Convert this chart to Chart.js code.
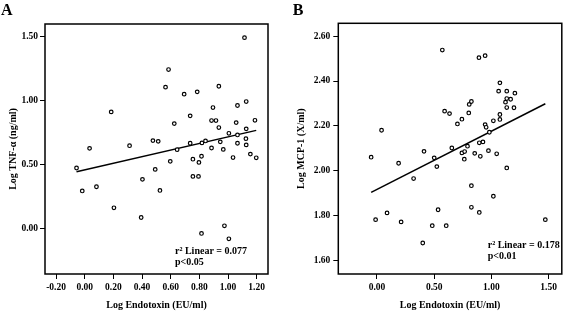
<!DOCTYPE html>
<html>
<head>
<meta charset="utf-8">
<script src="https://cdn.jsdelivr.net/npm/chart.js@4.4.0/dist/chart.umd.min.js"></script>
<style>
  html, body { margin: 0; padding: 0; background: #fff; }
  #wrap { position: relative; width: 567px; height: 311px; }
  .panel { position: absolute; top: 0; height: 311px; }
  #panelA { left: 0; width: 283px; }
  #panelB { left: 283px; width: 284px; }
</style>
</head>
<body>
<div id="wrap">
  <div class="panel" id="panelA"><canvas id="chartA"></canvas></div>
  <div class="panel" id="panelB"><canvas id="chartB"></canvas></div>
</div>
<script>
// Panel A: Log endotoxin vs Log TNF-a
const endotoxinA = [-0.057, -0.017, 0.034, 0.082, 0.185, 0.204, 0.313, 0.394, 0.403, 0.476,
  0.513, 0.492, 0.525, 0.564, 0.585, 0.597, 0.625, 0.645, 0.694, 0.736,
  0.736, 0.755, 0.755, 0.785, 0.794, 0.797, 0.815, 0.815, 0.818, 0.843,
  0.885, 0.916, 0.885, 0.895, 0.936, 0.936, 0.946, 0.967, 0.975, 1.006,
  1.006, 1.035, 1.057, 1.066, 1.066, 1.066, 1.115, 1.127, 1.127, 1.125,
  1.127, 1.156, 1.188, 1.197];
const tnfA = [0.471, 0.291, 0.625, 0.324, 0.911, 0.159, 0.646, 0.083, 0.382, 0.686,
  0.680, 0.460, 0.295, 1.105, 1.243, 0.523, 0.819, 0.615, 1.050, 0.880,
  0.665, 0.540, 0.405, 1.068, 0.405, 0.515, 0.563, -0.042, 0.668, 0.683,
  0.843, 0.843, 0.628, 0.945, 1.112, 0.788, 0.676, 0.617, 0.018, 0.743,
  -0.084, 0.553, 0.827, 0.961, 0.730, 0.665, 1.493, 0.992, 0.778, 0.701,
  0.652, 0.580, 0.845, 0.551];
const xTicksA = [-0.2, 0, 0.2, 0.4, 0.6, 0.8, 1.0, 1.2];
const yTicksA = [0, 0.5, 1.0, 1.5];

// Panel B: Log endotoxin vs Log MCP-1
const endotoxinB = [-0.051, -0.012, 0.040, 0.088, 0.189, 0.211, 0.320, 0.400, 0.411, 0.483,
  0.500, 0.523, 0.534, 0.571, 0.591, 0.605, 0.634, 0.654, 0.703, 0.742,
  0.742, 0.763, 0.766, 0.791, 0.802, 0.806, 0.825, 0.825, 0.825, 0.854,
  0.891, 0.894, 0.894, 0.903, 0.926, 0.945, 0.945, 0.954, 0.974, 0.982,
  1.017, 1.017, 1.046, 1.063, 1.074, 1.074, 1.074, 1.123, 1.134, 1.134,
  1.134, 1.134, 1.168, 1.197, 1.205, 1.471];
const mcpB = [2.061, 1.783, 2.181, 1.813, 2.034, 1.773, 1.966, 1.679, 2.087, 1.756,
  2.058, 2.019, 1.827, 2.538, 2.266, 1.756, 2.255, 2.102, 2.209, 2.230,
  2.080, 2.052, 2.086, 2.110, 2.258, 2.296, 2.309, 1.934, 1.838, 2.078,
  2.504, 2.125, 1.815, 2.065, 2.129, 2.513, 2.206, 2.194, 2.090, 2.172,
  2.223, 1.887, 2.076, 2.355, 2.392, 2.251, 2.229, 2.306, 2.355, 2.322,
  2.282, 2.013, 2.319, 2.281, 2.346, 1.783];
const xTicksB = [0, 0.5, 1.0, 1.5];
const yTicksB = [1.6, 1.8, 2.0, 2.2, 2.4, 2.6];

const SERIF = '"Liberation Serif", "Times New Roman", serif';
const tickFont = { family: SERIF, size: 9.5, weight: 'bold' };
const titleFont = { family: SERIF, size: 10, weight: 'bold' };

// least squares fit, drawn from min x to max x
function fitLine(xs, ys) {
  const n = xs.length;
  const mx = xs.reduce((a, b) => a + b, 0) / n;
  const my = ys.reduce((a, b) => a + b, 0) / n;
  let sxy = 0, sxx = 0;
  for (let i = 0; i < n; i++) {
    sxy += (xs[i] - mx) * (ys[i] - my);
    sxx += (xs[i] - mx) * (xs[i] - mx);
  }
  const b = sxy / sxx;
  const a = my - b * mx;
  const x0 = Math.min(...xs), x1 = Math.max(...xs);
  return [{ x: x0, y: a + b * x0 }, { x: x1, y: a + b * x1 }];
}

function makeScale(o) {
  return {
    type: 'linear',
    position: o.position,
    min: o.min,
    max: o.max,
    afterBuildTicks: s => { s.ticks = o.ticks.map(v => ({ value: v })); },
    afterFit: s => {
      if (o.position === 'left') s.width = o.size;
      else s.height = o.size;
    },
    border: { display: false },
    grid: { drawOnChartArea: false, drawTicks: true, tickLength: 5, tickColor: '#000', tickWidth: 1 },
    ticks: { color: '#000', font: tickFont, padding: o.pad, autoSkip: false, maxRotation: 0,
      callback: v => v.toFixed(2) },
    title: { display: true, text: o.title, color: '#000', font: titleFont, padding: o.titlePad }
  };
}

// frame round the plot area, stats text and panel letter
const framePlugin = {
  id: 'frame',
  afterDraw(chart, args, o) {
    const { ctx, chartArea: a } = chart;
    ctx.save();
    ctx.strokeStyle = '#000';
    ctx.lineWidth = 1.5;
    ctx.strokeRect(a.left, a.top, a.right - a.left, a.bottom - a.top);
    ctx.fillStyle = '#000';
    ctx.font = 'bold 10px ' + SERIF;
    ctx.textBaseline = 'middle';
    ctx.textAlign = 'left';
    o.notes.forEach(n => ctx.fillText(n.text, n.x, n.y));
    ctx.font = 'bold 16px ' + SERIF;
    ctx.textBaseline = 'alphabetic';
    ctx.fillText(o.letter, o.letterX, 14.5);
    ctx.restore();
  }
};

function makeChart(id, cfg) {
  const pts = cfg.xs.map((x, i) => ({ x, y: cfg.ys[i] }));
  return new Chart(document.getElementById(id), {
    type: 'scatter',
    data: {
      datasets: [
        { data: pts, pointRadius: 1.8, pointBorderWidth: 1.2, pointBorderColor: '#000',
          pointBackgroundColor: '#fff', order: 0 },
        { type: 'line', data: fitLine(cfg.xs, cfg.ys), borderColor: '#000', borderWidth: 1.5,
          pointRadius: 0, fill: false, order: 1 }
      ]
    },
    options: {
      responsive: true,
      maintainAspectRatio: false,
      animation: false,
      layout: { padding: cfg.padding },
      plugins: { legend: { display: false }, tooltip: { enabled: false }, frame: cfg.frame },
      scales: { x: makeScale(cfg.x), y: makeScale(cfg.y) }
    },
    plugins: [framePlugin]
  });
}

makeChart('chartA', {
  xs: endotoxinA, ys: tnfA,
  padding: { left: 0, top: 24, right: 15, bottom: 0 },
  x: { position: 'bottom', min: -0.277, max: 1.279, ticks: xTicksA, size: 37, pad: 3,
       title: 'Log Endotoxin (EU/ml)', titlePad: { top: 0, bottom: 0 } },
  y: { position: 'left', min: -0.36, max: 1.60, ticks: yTicksA, size: 45, pad: 2,
       title: 'Log TNF-\u03b1 (ng/ml)', titlePad: { top: 7, bottom: 0 } },
  frame: {
    letter: 'A', letterX: 1,
    notes: [{ text: 'r\u00b2 Linear = 0.077', x: 175, y: 251 }, { text: 'p<0.05', x: 175, y: 262.7 }]
  }
});

makeChart('chartB', {
  xs: endotoxinB, ys: mcpB,
  padding: { left: 0, top: 23.3, right: 1.3, bottom: 0 },
  x: { position: 'bottom', min: -0.338, max: 1.615, ticks: xTicksB, size: 37, pad: 3,
       title: 'Log Endotoxin (EU/ml)', titlePad: { top: 0, bottom: 0 } },
  y: { position: 'left', min: 1.541, max: 2.657, ticks: yTicksB, size: 55.3, pad: 3,
       title: 'Log MCP-1 (X/ml)', titlePad: { top: 12, bottom: 0 } },
  frame: {
    letter: 'B', letterX: 9.7,
    notes: [{ text: 'r\u00b2 Linear = 0.178', x: 204.7, y: 245 }, { text: 'p<0.01', x: 204.7, y: 256.7 }]
  }
});
</script>
</body>
</html>
